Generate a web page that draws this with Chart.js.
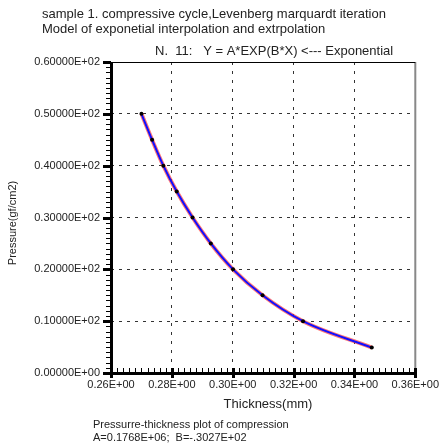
<!DOCTYPE html>
<html>
<head>
<meta charset="utf-8">
<script src="https://cdn.jsdelivr.net/npm/chart.js@4.4.0/dist/chart.umd.min.js"></script>
<style>
  html, body { margin: 0; padding: 0; background: #fff; }
  #wrap { width: 444px; height: 446px; }
</style>
</head>
<body>
<div id="wrap"><canvas id="chart" width="444" height="446"></canvas></div>
<script>
// measured points (thickness mm, pressure gf/cm2)
const thickness = [0.2700, 0.2735, 0.2772, 0.2816, 0.2868, 0.2928, 0.3001, 0.3098, 0.3231, 0.3457]
const pressure = [50.0, 45.0, 40.0, 35.0, 30.0, 25.0, 20.0, 15.0, 10.0, 4.9]

const xTicks = [0.26, 0.28, 0.30, 0.32, 0.34, 0.36]
const xTickLabels = ["0.26E+00", "0.28E+00", "0.30E+00", "0.32E+00", "0.34E+00", "0.36E+00"]
const yTicks = [0, 10, 20, 30, 40, 50, 60]
const yTickLabels = ["0.00000E+00", "0.10000E+02", "0.20000E+02", "0.30000E+02", "0.40000E+02", "0.50000E+02", "0.60000E+02"]

const titleLines = [
  "sample 1. compressive cycle,Levenberg marquardt iteration",
  "Model of exponetial interpolation and extrpolation",
]
const fitTitle = "N.  11:   Y = A*EXP(B*X) <--- Exponential"
const xTitle = "Thickness(mm)"
const yTitle = "Pressure(gf/cm2)"
const notes = ["Pressurre-thickness plot of compression", "A=0.1768E+06;  B=-.3027E+02"]

const FONT = "'Liberation Sans', Arial, sans-serif"
const points = thickness.map((x, i) => ({ x, y: pressure[i] }))

// frame, minor ticks and free text
const decorPlugin = {
  id: "decor",
  afterDraw(chart) {
    const ctx = chart.ctx
    const a = chart.chartArea
    const xs = chart.scales.x
    const ys = chart.scales.y
    ctx.save()

    // right border gray, top border thin black
    ctx.strokeStyle = "#888"
    ctx.lineWidth = 2
    ctx.beginPath()
    ctx.moveTo(a.right, a.top)
    ctx.lineTo(a.right, a.bottom)
    ctx.stroke()
    ctx.strokeStyle = "#000"
    ctx.lineWidth = 1
    ctx.beginPath()
    ctx.moveTo(a.left, a.top + 0.5)
    ctx.lineTo(a.right, a.top + 0.5)
    ctx.stroke()

    // y ticks
    ctx.fillStyle = "#000"
    for (let v = 0; v <= 60; v++) {
      const py = Math.round(ys.getPixelForValue(v))
      if (v % 10 === 0) ctx.fillRect(a.left - 8, py - 1, 8, 3)
      else ctx.fillRect(a.left - 5, py, 5, 1)
    }
    // x ticks
    for (let i = 0; i <= 50; i++) {
      const px = Math.round(xs.getPixelForValue(0.26 + i * 0.002))
      if (i % 10 === 0) ctx.fillRect(px - 1, a.bottom - 5, 3, 10)
      else ctx.fillRect(px, a.bottom - 5, 1, 5)
    }
    // thick left and bottom axes
    ctx.fillRect(a.left - 1, a.top, 3, a.bottom - a.top + 2)
    ctx.fillRect(a.left - 1, a.bottom - 1, a.right - a.left + 2, 3)

    ctx.fillStyle = "#222"
    ctx.textBaseline = "middle"
    ctx.font = "13px " + FONT
    ctx.textAlign = "left"
    ctx.fillText(titleLines[0], 42, 14)
    ctx.fillText(titleLines[1], 42, 29)
    ctx.fillText(fitTitle, 155, 51)
    ctx.textAlign = "center"
    ctx.fillText(xTitle, 268, 404)
    ctx.font = "11px " + FONT
    ctx.save()
    ctx.translate(13, 223)
    ctx.rotate(-Math.PI / 2)
    ctx.fillText(yTitle, 0, 0)
    ctx.restore()
    ctx.textAlign = "left"
    ctx.fillText(notes[0], 93, 425)
    ctx.fillText(notes[1], 93, 438)
    ctx.restore()
  },
}

new Chart(document.getElementById("chart"), {
  type: "scatter",
  data: {
    datasets: [
      {
        data: points,
        order: 2,
        showLine: true,
        borderColor: "rgba(255, 60, 60, 0.7)",
        borderWidth: 4,
        cubicInterpolationMode: "monotone",
        pointRadius: 0,
      },
      {
        data: points,
        order: 1,
        showLine: true,
        borderColor: "#1010ff",
        borderWidth: 2,
        cubicInterpolationMode: "monotone",
        pointRadius: 0,
      },
      {
        data: points,
        order: 0,
        showLine: false,
        pointRadius: 2,
        pointBackgroundColor: "#000",
        pointBorderWidth: 0,
      },
    ],
  },
  options: {
    responsive: false,
    animation: false,
    events: [],
    layout: { padding: { top: 62, right: 24, left: 0, bottom: 0 } },
    plugins: { legend: { display: false }, tooltip: { enabled: false } },
    scales: {
      x: {
        type: "linear",
        min: 0.26,
        max: 0.36,
        afterBuildTicks: (s) => { s.ticks = xTicks.map((v) => ({ value: v })) },
        afterFit: (s) => { s.height = 73 },
        ticks: {
          padding: 5,
          color: "#222",
          font: { family: FONT, size: 11 },
          maxRotation: 0,
          callback: (v, i) => xTickLabels[i],
        },
        grid: {
          drawTicks: false,
          color: (c) => (c.index === 0 || c.index === xTicks.length - 1 ? "rgba(0,0,0,0)" : "#333"),
          lineWidth: 1,
        },
        border: { display: false, dash: [3, 6] },
      },
      y: {
        type: "linear",
        min: 0,
        max: 60,
        afterBuildTicks: (s) => { s.ticks = yTicks.map((v) => ({ value: v })) },
        afterFit: (s) => { s.width = 111 },
        ticks: {
          padding: 11,
          color: "#222",
          font: { family: FONT, size: 11 },
          callback: (v, i) => yTickLabels[i],
        },
        grid: {
          drawTicks: false,
          color: (c) => (c.index === 0 || c.index === yTicks.length - 1 ? "rgba(0,0,0,0)" : "#333"),
          lineWidth: 1,
        },
        border: { display: false, dash: [3, 5] },
      },
    },
  },
  plugins: [decorPlugin],
})
</script>
</body>
</html>
